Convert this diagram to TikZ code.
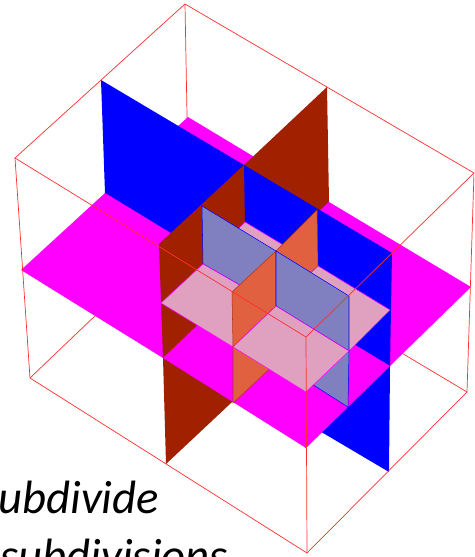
\documentclass[tikz,border=0pt]{standalone}
\usepackage{fontspec}
\setmainfont{Carlito}
\usetikzlibrary{positioning,calc}
\definecolor{wirered}{HTML}{FF3030}
\definecolor{planeblue}{HTML}{0000FF}
\definecolor{planebrown}{HTML}{A02000}
\definecolor{planemagenta}{HTML}{FF00FF}
\definecolor{paleblue}{HTML}{8080C0}
\definecolor{paleorange}{HTML}{E06040}
\definecolor{palepink}{HTML}{E0A0C0}
\tikzset{
  wire/.style={draw=wirered,line width=0.4pt},
  blueface/.style={fill=planeblue},
  brownface/.style={fill=planebrown},
  magentaface/.style={fill=planemagenta},
  inblue/.style={fill=paleblue,draw=planeblue,line width=0.3pt},
  inorange/.style={fill=paleorange,draw=planebrown!70!paleorange,line width=0.3pt},
  inpink/.style={fill=palepink,draw=planemagenta,line width=0.3pt},
  caption/.style={font=\fontsize{26.6}{30}\selectfont\itshape,text=black,inner sep=0pt,anchor=base west}
}
\begin{document}
\begin{tikzpicture}[x=0.02cm,y=-0.02cm]
\clip (0,0) rectangle (474,557);
\useasboundingbox (0,0) rectangle (474,557);
% cube corners
\coordinate (topback) at (185,4);
\coordinate (topleft) at (15,158);
\coordinate (topright) at (474,173);
\coordinate (topfront) at (306,337);
\coordinate (botback) at (189,226);
\coordinate (botleft) at (30,378);
\coordinate (botright) at (467,392);
\coordinate (botfront) at (307,553);
% large planes
\coordinate (mid) at (246,279);
\coordinate (midtop) at (244,165);
\coordinate (midbot) at (247,388);
\coordinate (magback) at (188,117);
\coordinate (magleft) at (21,270);
\coordinate (magright) at (471,287);
\coordinate (magfront) at (306,448);
\coordinate (bluetopl) at (101,80);
\coordinate (bluetopr) at (392,253);
\coordinate (bluemidl) at (105,193);
\coordinate (bluemidr) at (390,366);
\coordinate (bluebotl) at (108,302);
\coordinate (bluebotr) at (389,472);
\coordinate (browntopr) at (327,87);
\coordinate (browntopl) at (159,244);
\coordinate (brownmidr) at (329,202);
\coordinate (brownmidl) at (163,358);
\coordinate (brownbotr) at (331,310);
\coordinate (brownbotl) at (166,464);
% small planes
\coordinate (inmid) at (276,306);
\coordinate (intop) at (276,251);
\coordinate (inbot) at (277,362);
\coordinate (pinkback) at (245,222);
\coordinate (pinkleft) at (161,303);
\coordinate (pinkright) at (390,310);
\coordinate (pinkfront) at (306,392);
\coordinate (palemidl) at (203,264);
\coordinate (palemidr) at (349,351);
\coordinate (oramidr) at (318,266);
\coordinate (oramidl) at (233,347);
\coordinate (paletopl) at (202,206);
\coordinate (paletopr) at (349,296);
\coordinate (palebotl) at (205,320);
\coordinate (palebotr) at (348,407);
\coordinate (oratopr) at (317,210);
\coordinate (oratopl) at (232,292);
\coordinate (orabotr) at (319,320);
\coordinate (orabotl) at (233,403);
% hidden wires
\draw[wire] (topback) -- (botback) (botleft) -- (botback) -- (botright);
% back half of large planes
\fill[magentaface] (magback) -- (brownmidr) -- (mid) -- (bluemidl) -- cycle;
\fill[blueface] (bluetopl) -- (midtop) -- (mid) -- (bluemidl) -- cycle;
\fill[blueface] (bluemidl) -- (mid) -- (midbot) -- (bluebotl) -- cycle;
\fill[magentaface] (bluemidl) -- (mid) -- (brownmidl) -- (magleft) -- cycle;
\fill[brownface] (midtop) -- (browntopr) -- (brownmidr) -- (mid) -- cycle;
\fill[brownface] (browntopl) -- (midtop) -- (mid) -- (brownmidl) -- cycle;
\fill[brownface] (mid) -- (brownmidr) -- (brownbotr) -- (midbot) -- cycle;
\fill[brownface] (brownmidl) -- (mid) -- (midbot) -- (brownbotl) -- cycle;
% front half of large planes
\fill[magentaface] (brownmidr) -- (magright) -- (bluemidr) -- (mid) -- cycle;
\fill[blueface] (midtop) -- (bluetopr) -- (bluemidr) -- (mid) -- cycle;
\fill[blueface] (mid) -- (bluemidr) -- (bluebotr) -- (midbot) -- cycle;
\fill[magentaface] (mid) -- (bluemidr) -- (magfront) -- (brownmidl) -- cycle;
% small planes
\path[inpink] (pinkback) -- (oramidr) -- (inmid) -- (palemidl) -- cycle;
\path[inblue] (paletopl) -- (intop) -- (inmid) -- (palemidl) -- cycle;
\path[inblue] (palemidl) -- (inmid) -- (inbot) -- (palebotl) -- cycle;
\path[inpink] (palemidl) -- (inmid) -- (oramidl) -- (pinkleft) -- cycle;
\path[inorange] (intop) -- (oratopr) -- (oramidr) -- (inmid) -- cycle;
\path[inorange] (oratopl) -- (intop) -- (inmid) -- (oramidl) -- cycle;
\path[inorange] (inmid) -- (oramidr) -- (orabotr) -- (inbot) -- cycle;
\path[inorange] (oramidl) -- (inmid) -- (inbot) -- (orabotl) -- cycle;
\path[inpink] (oramidr) -- (pinkright) -- (palemidr) -- (inmid) -- cycle;
\path[inblue] (intop) -- (paletopr) -- (palemidr) -- (inmid) -- cycle;
\path[inblue] (inmid) -- (palemidr) -- (palebotr) -- (inbot) -- cycle;
\path[inpink] (inmid) -- (palemidr) -- (pinkfront) -- (oramidl) -- cycle;
% near wires
\draw[wire] (topleft) -- (topback) -- (topright) -- (topfront) -- cycle;
\draw[wire] (topleft) -- (botleft) -- (botfront) -- (botright) -- (topright);
\draw[wire] (topfront) -- (botfront);
\node[caption] (captionone) at (-2,513) {ubdivide};
\node[caption] (captiontwo) at (0,571) {subdivisions};
\end{tikzpicture}
\end{document}
